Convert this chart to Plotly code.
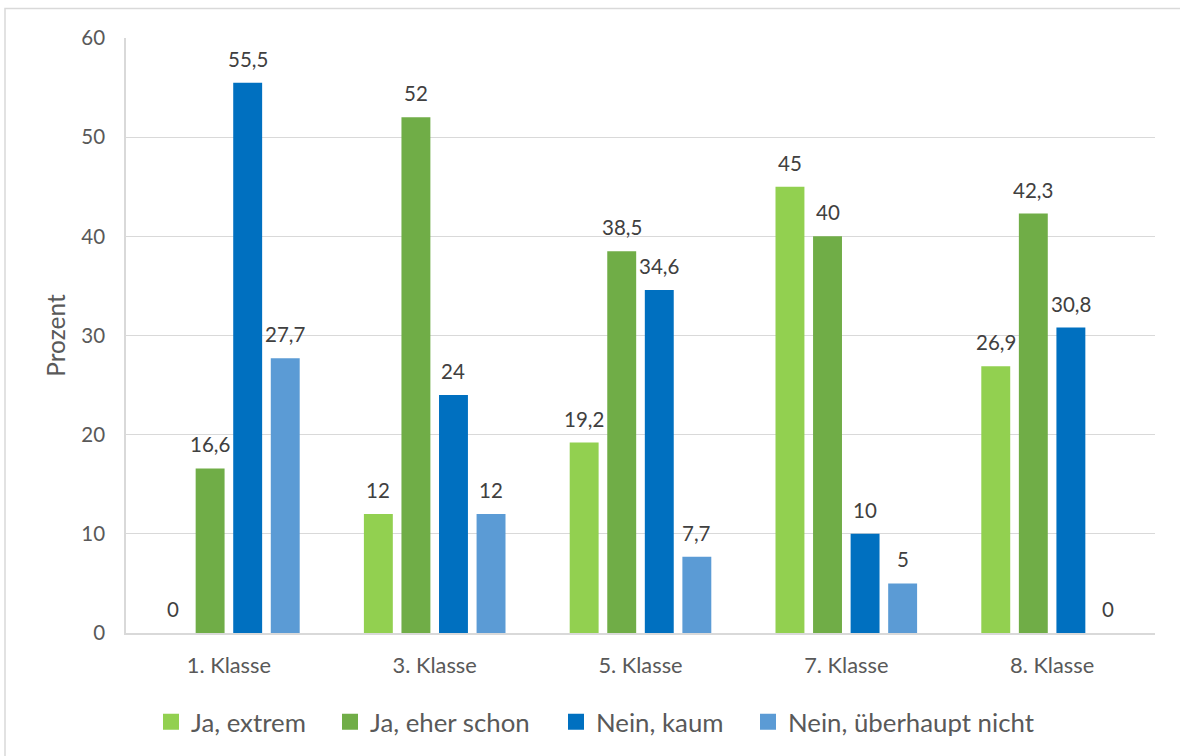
import plotly.graph_objects as go

# Klassenstufen und Antwortkategorien
klassen = ["1. Klasse", "3. Klasse", "5. Klasse", "7. Klasse", "8. Klasse"]
antworten = ["Ja, extrem", "Ja, eher schon", "Nein, kaum", "Nein, überhaupt nicht"]

# Prozentwerte je Antwort über die Klassenstufen
ja_extrem = [0, 12, 19.2, 45, 26.9]
ja_eher_schon = [16.6, 52, 38.5, 40, 42.3]
nein_kaum = [55.5, 24, 34.6, 10, 30.8]
nein_ueberhaupt_nicht = [27.7, 12, 7.7, 5, 0]

y_ticks = [0, 10, 20, 30, 40, 50, 60]

serien = [ja_extrem, ja_eher_schon, nein_kaum, nein_ueberhaupt_nicht]
farben = ["#92D050", "#70AD47", "#0070C0", "#5B9BD5"]

FONT = "Lato"
BARGAP = 0.27
BARGROUPGAP = 0.23

plot_l, plot_r, plot_t, plot_b = 126, 1155, 38, 634
pw, ph = plot_r - plot_l, plot_b - plot_t
def px(xp): return (xp - plot_l) / pw
def py(yp): return (plot_b - yp) / ph

legend_ids = ["legend", "legend2", "legend3", "legend4"]
legend_text_x = [191, 370, 596, 788]

fig = go.Figure()
for name, werte, farbe in zip(antworten, serien, farben):
    fig.add_trace(go.Bar(
        x=klassen, y=werte, name=name, legendgroup=name, showlegend=False,
        marker=dict(color=farbe, line=dict(width=0)),
    ))

# Legendeneinträge mit größeren quadratischen Symbolen, je eine eigene Legende
for name, farbe, lid in zip(antworten, farben, legend_ids):
    fig.add_trace(go.Scatter(
        x=[None], y=[None], name=name, legendgroup=name, mode="markers",
        marker=dict(symbol="square", size=16, color=farbe), legend=lid,
    ))

# Datenbeschriftungen über den Balken (Dezimalkomma)
n = len(serien)
slot = (1 - BARGAP) / n
for k, werte in enumerate(serien):
    for i, v in enumerate(werte):
        fig.add_annotation(
            x=i + (k - (n - 1) / 2) * slot, y=v, xref="x", yref="y",
            text=f"{v:g}".replace(".", ","),
            showarrow=False, yanchor="middle", yshift=24,
            font=dict(family=FONT, size=20.5, color="#404040"),
        )

# Rahmen um das Diagramm
fig.add_shape(type="rect", xref="paper", yref="paper",
              x0=px(5), x1=px(1200), y0=py(8.5), y1=py(780),
              line=dict(color="#D9D9D9", width=1.5), fillcolor="rgba(0,0,0,0)",
              layer="below")

legend_style = dict(
    orientation="v", xanchor="left", y=py(722), yanchor="middle",
    font=dict(family=FONT, size=25.8, color="#595959"),
    itemwidth=30, bgcolor="rgba(0,0,0,0)", borderwidth=0,
)
legends = {lid: dict(legend_style, x=px(tx - 40)) for lid, tx in zip(legend_ids, legend_text_x)}

fig.update_layout(
    width=1180, height=756,
    margin=dict(l=plot_l, r=1180 - plot_r, t=plot_t, b=756 - plot_b),
    paper_bgcolor="white", plot_bgcolor="white",
    barmode="group", bargap=BARGAP, bargroupgap=BARGROUPGAP,
    font=dict(family=FONT, color="#595959"),
    showlegend=True,
    xaxis=dict(
        type="category",
        showgrid=False, showline=True, linecolor="#D9D9D9", linewidth=1.5,
        ticks="", tickfont=dict(family=FONT, size=21.8, color="#595959"),
        ticklabelstandoff=12,
    ),
    yaxis=dict(
        range=[0, 60], tickvals=y_ticks,
        showgrid=True, gridcolor="#D9D9D9", gridwidth=1,
        showline=True, linecolor="#D9D9D9", linewidth=1.5,
        zeroline=False,
        ticks="", tickfont=dict(family=FONT, size=20.5, color="#595959"),
        ticklabelstandoff=15,
        title=dict(text="Prozent", font=dict(family=FONT, size=24.5, color="#595959"),
                   standoff=9),
    ),
    **legends,
)

fig.write_html("out.html")
